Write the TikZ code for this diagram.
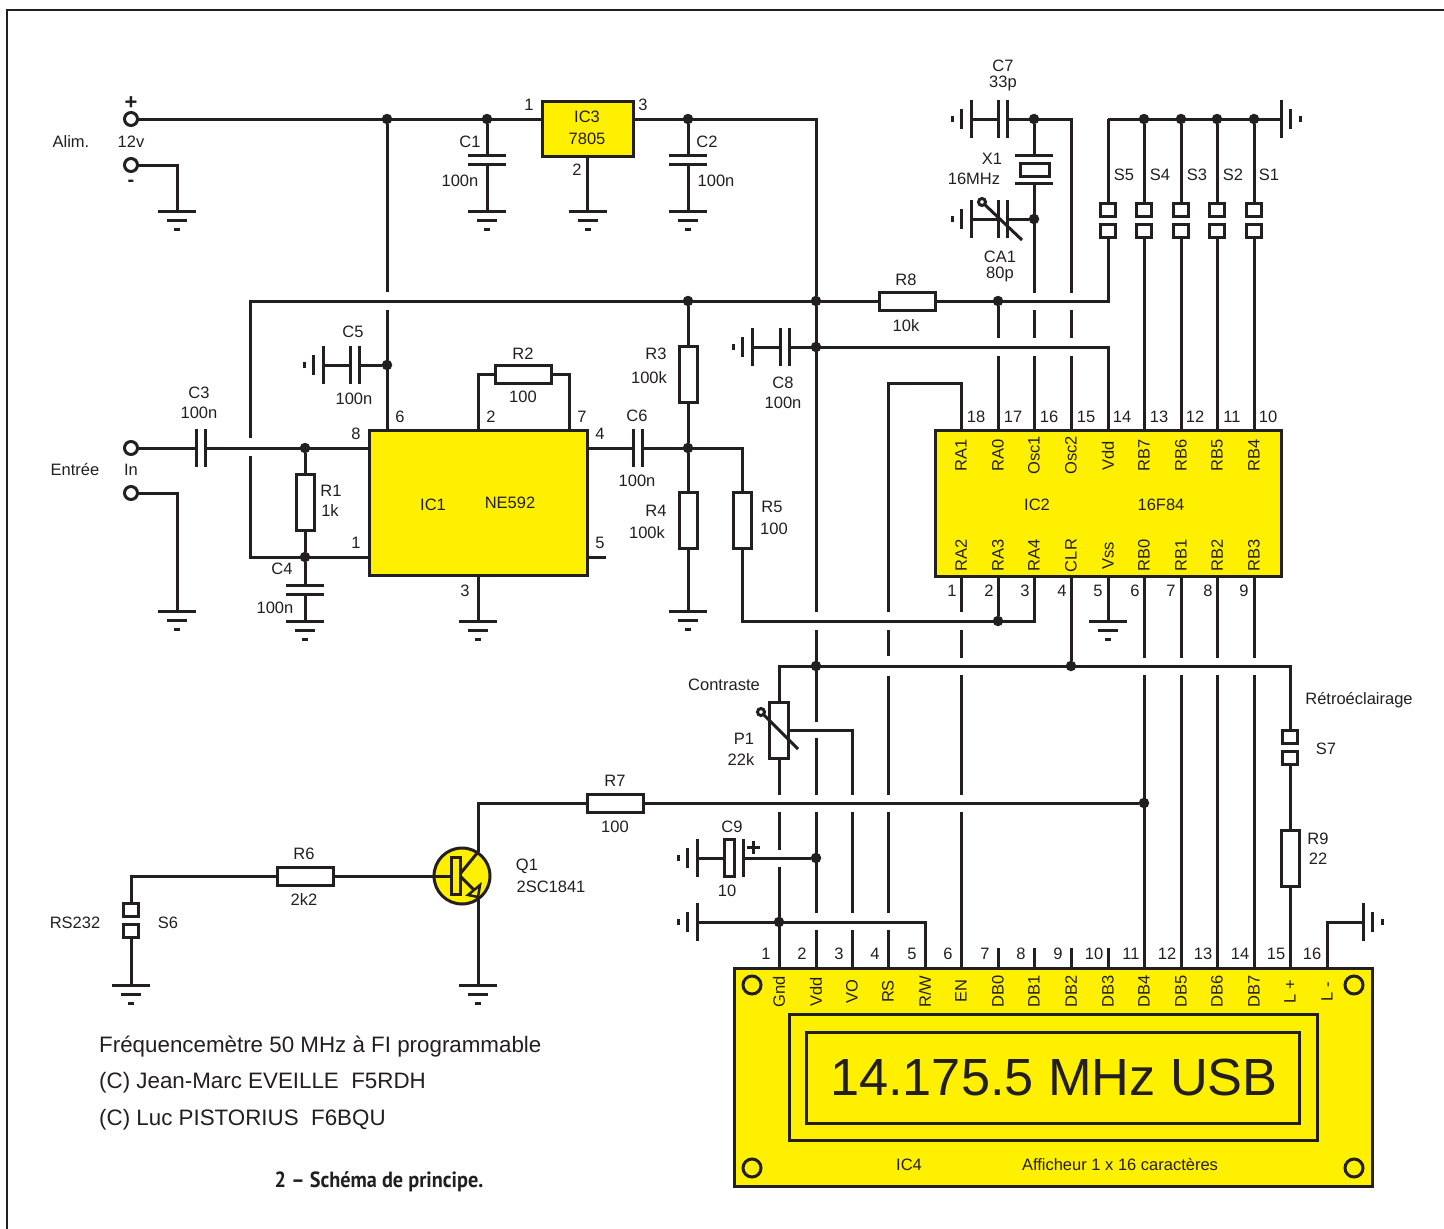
\documentclass[tikz,border=0pt]{standalone}
\usepackage{fontspec}
\setmainfont{Liberation Sans}
\newfontfamily\titlefont{PT Sans}
\definecolor{ink}{HTML}{231F20}
\definecolor{icyel}{HTML}{FFF000}
\newcounter{lc}
\newcommand\lb[3]{\stepcounter{lc}\node[lbl] (t\arabic{lc}) at (#1,#2) {#3};}
\newcommand\lbv[3]{\stepcounter{lc}\node[lbl,rotate=90] (t\arabic{lc}) at (#1,#2) {#3};}
\tikzset{
 wire/.style={draw=ink,line width=3pt,line join=miter},
 lbl/.style={inner sep=0pt,text=ink,yshift=-0.5pt,font=\fontsize{16.5}{18}\selectfont},
 res/.style={draw=ink,line width=3pt,fill=white,inner sep=0pt,outer sep=0pt,minimum width=56pt,minimum height=18pt},
 resv/.style={res,minimum width=18pt,minimum height=56pt},
 jump/.style={draw=ink,line width=3pt,fill=white,inner sep=0pt,outer sep=0pt,minimum width=15pt,minimum height=13pt},
 ic/.style={draw=ink,line width=3pt,fill=icyel,inner sep=0pt,outer sep=0pt},
 dot/.style={circle,fill=ink,inner sep=0pt,outer sep=0pt,minimum size=10.5pt},
 term/.style={circle,draw=ink,line width=3pt,fill=white,inner sep=0pt,outer sep=0pt,minimum size=13pt},
 hole/.style={circle,draw=ink,line width=3pt,inner sep=0pt,outer sep=0pt,minimum size=18pt},
 trim/.style={circle,draw=ink,line width=3pt,fill=white,inner sep=0pt,outer sep=0pt,minimum size=7pt},
 gnddown/.pic={\draw[wire] (-19,0)--(19,0) (-10,9.5)--(10,9.5) (-3,18.5)--(3,18.5);},
 gndleft/.pic={\draw[wire] (0,-19)--(0,19) (-9.5,-10)--(-9.5,10) (-19,-3)--(-19,3);},
 gndright/.pic={\draw[wire] (0,-19)--(0,19) (9.5,-10)--(9.5,10) (19,-3)--(19,3);},
 caph/.pic={\fill[white] (-6,-3) rectangle (6,3); \draw[wire] (-19,-4.5)--(19,-4.5) (-19,4.5)--(19,4.5);},
 capv/.pic={\fill[white] (-3,-6) rectangle (3,6); \draw[wire] (-4.5,-19)--(-4.5,19) (4.5,-19)--(4.5,19);},
}
\begin{document}
\begin{tikzpicture}[x=1pt,y=-1pt]
\useasboundingbox (0,0) rectangle (1444,1229);
\fill[white] (0,0) rectangle (1444,1229);
\draw[ink,line width=2pt] (7,1229)--(7,9.5)--(1444,9.5);

% ---- ICs
\node[ic,minimum width=91pt,minimum height=55pt] (IC3) at (587.5,128.5) {};
\node[ic,minimum width=218pt,minimum height=145pt] (IC1) at (478,502.5) {};
\node[ic,minimum width=346pt,minimum height=146pt] (IC2) at (1108,503) {};
\node[ic,minimum width=638pt,minimum height=218pt] (IC4) at (1053,1077) {};
\node[draw=ink,line width=3pt,minimum width=528pt,minimum height=126pt,inner sep=0pt,outer sep=0pt] (LCDa) at (1053,1077) {};
\node[draw=ink,line width=3pt,minimum width=493pt,minimum height=91pt,inner sep=0pt,outer sep=0pt] (LCDb) at (1053,1077.5) {};
\node[hole] (h1) at (752,985) {};
\node[hole] (h2) at (752,1168) {};
\node[hole] (h3) at (1354,985) {};
\node[hole] (h4) at (1354,1168) {};
\node[inner sep=0pt,text=ink,font=\fontsize{52.3}{56}\selectfont] (disp) at (1054,1077) {14.175.5 MHz USB};

% ---- named points on the ICs
\foreach \i/\x in {18/961,17/998,16/1034,15/1071,14/1108,13/1144,12/1181,11/1217,10/1254}
  \coordinate (p\i) at (\x,430);
\foreach \i/\x in {1/961,2/998,3/1034,4/1071,5/1108,6/1144,7/1181,8/1217,9/1254}
  \coordinate (q\i) at (\x,576);
\foreach \i/\x in {1/779,2/816,3/852,4/888,5/925,6/961,7/998,8/1034,9/1071,10/1108,11/1144,12/1181,13/1217,14/1254,15/1290,16/1327}
  \coordinate (d\i) at (\x,968);

% ---- resistors, jumpers, terminals
\node[res] (R8) at (907,301) {};
\node[res] (R2) at (523,374.5) {};
\node[resv] (R3) at (688,374.5) {};
\node[resv] (R4) at (688,520) {};
\node[resv] (R5) at (742,520) {};
\node[resv] (R1) at (305,502) {};
\node[res] (R7) at (615,803) {};
\node[res] (R6) at (305,876) {};
\node[resv] (R9) at (1290,858.5) {};
\node[resv,minimum width=19pt] (P1) at (779,730) {};
\foreach \n/\x in {5/1108,4/1144,3/1181,2/1217,1/1254}{
  \node[jump] (S\n a) at (\x,209.5) {};
  \node[jump] (S\n b) at (\x,231) {};
}
\node[jump] (S7a) at (1290,737) {};
\node[jump] (S7b) at (1290,758) {};
\node[jump] (S6a) at (131,909.5) {};
\node[jump] (S6b) at (131,931) {};
\node[term] (Tp) at (131,119) {};
\node[term] (Tm) at (131,165) {};
\node[term] (Ti) at (131,448) {};
\node[term] (Tg) at (131,493) {};

% ---- junctions
\foreach \n/\x/\y in {a/387/119,b/487/119,c/688/119,d/1034/119,e/1144/119,f/1181/119,g/1217/119,h/1254/119,
  i/1034/219,j/688/301,k/816/301,l/998/301,m/816/347,n/387/365,o/305/448,p/688/448,q/305/557,r/998/621,
  s/816/666,t/1071/666,u/1144/803,v/816/858,w/779/922}
  \node[dot] (J\n) at (\x,\y) {};

% ---- supply
\draw[wire] (Tp)--(IC3.west |- Tp);
\draw[wire] (IC3.east |- Tp)--(816,119)--(Jk);
\draw[wire] (Tm)--(177,165)--(177,211);
\pic at (177,211) {gnddown};
\draw[wire] (Jb)--(487,211); \pic at (487,160) {caph}; \pic at (487,211) {gnddown};
\draw[wire] (Jc)--(688,211); \pic at (688,160) {caph}; \pic at (688,211) {gnddown};
\draw[wire] (IC3.south)--(587.5,211); \pic at (587.5,211) {gnddown};

% ---- main rails
\draw[wire] (Ja)--(387,292) (387,310)--(387,430);
\draw[wire] (250,438)--(250,301)--(R8.west);
\draw[wire] (R8.east)--(1108,301)--(S5b);
\draw[wire] (250,456)--(250,557)--(IC1.west |- 0,557);
\draw[wire] (IC1.east |- 0,557)--(606,557);

% ---- C5
\draw[wire] (Jn)--(323,365); \pic at (355,365) {capv};
\pic at (323,365) {gndleft};
% ---- input
\draw[wire] (Ti)--(369,448); \pic at (200.5,448) {capv};
\draw[wire] (Tg)--(177,493)--(177,611); \pic at (177,611) {gnddown};
\draw[wire] (Jo)--(R1.north) (R1.south)--(Jq);
\draw[wire] (Jq)--(305,621); \pic at (305,589.5) {caph};
\pic at (305,621) {gnddown};
% ---- IC1 others
\draw[wire] (478,430)--(478,374.5)--(R2.west) (R2.east)--(569,374.5)--(569,430);
\draw[wire] (478,575)--(478,621); \pic at (478,621) {gnddown};
\draw[wire] (587,448)--(742,448)--(R5.north);
\pic at (637.5,448) {capv};
\draw[wire] (Jj)--(R3.north) (R3.south)--(Jp)--(R4.north) (R4.south)--(688,611);
\pic at (688,611) {gnddown};
\draw[wire] (R5.south)--(742,621)--(1034,621)--(q3);
\draw[wire] (q2)--(Jr);

% ---- crystal block
\draw[wire] (971,119)--(1071,119)--(1071,293);
\pic at (971,119) {gndleft};
\pic at (1002.5,119) {capv};
\draw[wire] (Jd)--(1034,155.5);
\draw[wire] (1015,155.5)--(1053,155.5) (1015,183)--(1053,183);
\node[draw=ink,line width=3pt,fill=white,inner sep=0pt,outer sep=0pt,minimum width=29pt,minimum height=13pt] (X1) at (1034.5,169.5) {};
\draw[wire] (1034,183)--(1034,293);
\draw[wire] (971,219)--(Ji);
\pic at (971,219) {gndleft};
\pic at (1002.5,219) {capv};
\node[trim] (CAt) at (982,202) {};
\coordinate (CAe) at (1022,240);
\draw[wire] (CAt)--(CAe);
\draw[wire] (1034,310)--(1034,338) (1034,356)--(p16);
\draw[wire] (1071,310)--(1071,338) (1071,356)--(p15);
\draw[wire] (Jl)--(998,338) (998,356)--(p17);

% ---- switches
\draw[wire] (1108,119)--(1281,119); \pic at (1281,119) {gndright};
\draw[wire] (1108,119)--(S5a);
\draw[wire] (Je)--(S4a) (S4b)--(p13);
\draw[wire] (Jf)--(S3a) (S3b)--(p12);
\draw[wire] (Jg)--(S2a) (S2b)--(p11);
\draw[wire] (Jh)--(S1a) (S1b)--(p10);

% ---- C8, Vdd
\draw[wire] (752,347)--(1108,347)--(p14);
\pic at (752,347) {gndleft};
\pic at (784.5,347) {capv};

% ---- RA1 / RS
\draw[wire] (888,612)--(888,383)--(961,383)--(p18);
\draw[wire] (888,630)--(888,656) (888,676)--(888,795) (888,812)--(888,913) (888,930)--(d4);

% ---- vertical bus
\draw[wire] (Jk)--(816,612) (816,630)--(816,722) (816,738)--(816,795) (816,812)--(816,913) (816,930)--(d2);
\draw[wire] (q1)--(961,612) (961,630)--(961,658) (961,675)--(961,795) (961,812)--(d6);
\draw[wire] (q6)--(1144,658) (1144,675)--(d11);
\draw[wire] (q7)--(1181,658) (1181,675)--(d12);
\draw[wire] (q8)--(1217,658) (1217,675)--(d13);
\draw[wire] (q9)--(1254,658) (1254,675)--(d14);
\draw[wire] (q4)--(Jt);
\draw[wire] (q5)--(1108,621); \pic at (1108,621) {gnddown};
\foreach \k in {7,8,9,10}{ \draw[wire] (d\k)--++(0,-20); }

% ---- contrast rail
\draw[wire] (P1.north)--(779,666)--(1290,666)--(S7a);
\draw[wire] (S7b)--(R9.north) (R9.south)--(d15);
\draw[wire] (P1.south)--(779,795) (779,812)--(779,850) (779,867)--(d1);
\draw[wire] (P1.east |- 0,730)--(852,730)--(852,795) (852,812)--(852,913) (852,930)--(d3);
\node[trim] (P1t) at (761,712) {};
\coordinate (P1e) at (798,749);
\draw[wire] (P1t)--(P1e);

% ---- R7, Q1
\draw[wire] (478,852)--(478,803)--(R7.west);
\draw[wire] (R7.east)--(Ju);
\node[circle,draw=ink,line width=3pt,fill=icyel,inner sep=0pt,outer sep=0pt,minimum size=56pt] (Q1) at (462,876) {};
\node[draw=ink,line width=3pt,inner sep=0pt,outer sep=0pt,minimum width=9pt,minimum height=37pt] (Q1b) at (455.5,876) {};
\draw[wire] (R6.east)--(Q1b.west);
\draw[wire] (S6a)--(131,876)--(R6.west);
\draw[wire] (S6b)--(131,985); \pic at (131,985) {gnddown};
\draw[wire] (460,874)--(478,852);
\draw[wire] (460,876)--(474,890);
\draw[draw=ink,line width=2.5pt,line join=miter] (480,885)--(468,895)--(478,897)--cycle;
\draw[wire] (478,897)--(478,985); \pic at (478,985) {gnddown};

% ---- C9
\draw[wire] (697,858)--(724,858);
\node[draw=ink,line width=3pt,fill=white,inner sep=0pt,outer sep=0pt,minimum width=10pt,minimum height=37pt] (C9e) at (729,858) {};
\draw[wire] (743,839)--(743,877);
\draw[wire] (743,858)--(Jv);
\draw[wire] (747,847)--(760,847) (753.5,840.5)--(753.5,853.5);
\pic at (697,858) {gndleft};
% ---- Gnd rail
\draw[wire] (697,922)--(925,922)--(d5);
\pic at (697,922) {gndleft};
% ---- L-
\draw[wire] (d16)--(1327,922)--(1363,922);
\pic at (1363,922) {gndright};

% ---- labels: supply
\node[lbl,font=\bfseries\fontsize{22}{22}\selectfont] (plus) at (131,103) {+};
\node[lbl,font=\bfseries\fontsize{20}{20}\selectfont] (minus) at (131,183) {-};
\lb{71}{141}{Alim.} \lb{131}{141}{12v}
\lb{529}{104}{1} \lb{643}{104}{3} \lb{577}{169}{2}
\lb{587}{116}{IC3} \lb{587}{138}{7805}
\lb{470}{141}{C1} \lb{460}{180}{100n} \lb{707}{141}{C2} \lb{716}{180}{100n}
\lb{1003}{65}{C7} \lb{1003}{83}{33p} \lb{992}{158}{X1} \lb{974}{178}{16MHz}
\lb{1000}{256}{CA1} \lb{1000}{274}{80p}
\lb{1124}{174}{S5} \lb{1160}{174}{S4} \lb{1197}{174}{S3} \lb{1233}{174}{S2} \lb{1269}{174}{S1}
\lb{906}{279}{R8} \lb{906}{325}{10k}
\lb{783}{382}{C8} \lb{783}{402}{100n}
\lb{656}{353}{R3} \lb{649}{377}{100k} \lb{656}{510}{R4} \lb{647}{532}{100k}
\lb{772}{506}{R5} \lb{774}{528}{100}
\lb{637}{415}{C6} \lb{637}{480}{100n}
\lb{523}{353}{R2} \lb{523}{396}{100}
\lb{353}{331}{C5} \lb{354}{398}{100n}
\lb{199}{392}{C3} \lb{199}{412}{100n}
\lb{331}{490}{R1} \lb{330}{510}{1k}
\lb{282}{568}{C4} \lb{275}{607}{100n}
\lb{75}{469}{Entrée} \lb{131}{469}{In}
\lb{400}{416}{6} \lb{356}{433}{8} \lb{491}{416}{2} \lb{582}{416}{7} \lb{600}{433}{4}
\lb{600}{542}{5} \lb{356}{542}{1} \lb{465}{590}{3}
\lb{433}{504}{IC1} \lb{510}{502}{NE592}
\lb{1037}{504}{IC2} \lb{1161}{504}{16F84}
\lb{724}{684}{Contraste} \lb{744}{738}{P1} \lb{741}{759}{22k}
\lb{1359}{700}{Rétroéclairage} \lb{1326}{748}{S7} \lb{1318}{838}{R9} \lb{1318}{858}{22}
\lb{615}{780}{R7} \lb{615}{826}{100}
\lb{732}{826}{C9} \lb{727}{890}{10}
\lb{304}{853}{R6} \lb{304}{899}{2k2}
\lb{75}{922}{RS232} \lb{168}{922}{S6}
\lb{527}{866}{Q1} \lb{551}{886}{2SC1841}
\lb{909}{1164}{IC4} \lb{1120}{1164}{Afficheur 1 x 16 caractères}
% IC2 pins
\foreach \n/\x in {18/976,17/1013,16/1049,15/1086,14/1122,13/1159,12/1195,11/1232,10/1268}{\lb{\x}{416}{\n}}
\foreach \n/\x in {1/952,2/989,3/1025,4/1062,5/1098,6/1135,7/1171,8/1208,9/1244}{\lb{\x}{590}{\n}}
\foreach \s/\x in {RA1/961,RA0/998,Osc1/1034,Osc2/1071,Vdd/1108,RB7/1144,RB6/1181,RB5/1217,RB4/1254}{\lbv{\x}{455}{\s}}
\foreach \s/\x in {RA2/961,RA3/998,RA4/1034,CLR/1071,Vss/1108,RB0/1144,RB1/1181,RB2/1217,RB3/1254}{\lbv{\x}{555}{\s}}
% IC4 pins
\foreach \n/\x in {1/766,2/802,3/839,4/875,5/912,6/948,7/985,8/1021,9/1058,10/1094,11/1131,12/1167,13/1203,14/1240,15/1276,16/1312}{\lb{\x}{953}{\n}}
\foreach \s/\x in {Gnd/779,Vdd/816,VO/852,RS/888,R\slash W/925,EN/961,DB0/998,DB1/1034,DB2/1071,DB3/1108,DB4/1144,DB5/1181,DB6/1217,DB7/1254,L +/1290,L -/1327}{\lbv{\x}{991}{\s}}
% block text
\node[lbl,anchor=west,font=\fontsize{22.35}{24}\selectfont] (n1) at (99,1046.5) {Fréquencemètre 50 MHz à FI programmable};
\node[lbl,anchor=west,font=\fontsize{22.35}{24}\selectfont] (n2) at (99,1082.5) {(C) Jean-Marc EVEILLE\ \ F5RDH};
\node[lbl,anchor=west,font=\fontsize{22.35}{24}\selectfont] (n3) at (99,1119.5) {(C) Luc PISTORIUS\ \ F6BQU};
\node[lbl,font=\titlefont\bfseries\fontsize{22}{24}\selectfont,xscale=0.92] (cap) at (379,1181) {2 – Schéma de principe.};
\end{tikzpicture}
\end{document}
